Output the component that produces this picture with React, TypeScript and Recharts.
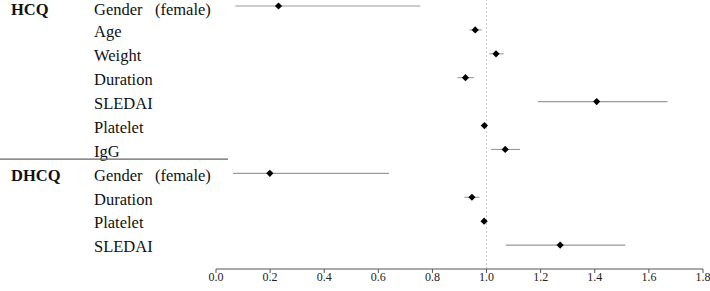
import { ComposedChart, ErrorBar, ReferenceLine, Scatter, XAxis, YAxis } from 'recharts'

const rowLabels = [
  'Gender\u00A0\u00A0\u00A0(female)',
  'Age',
  'Weight',
  'Duration',
  'SLEDAI',
  'Platelet',
  'IgG',
  'Gender\u00A0\u00A0\u00A0(female)',
  'Duration',
  'Platelet',
  'SLEDAI',
]
const groupNames = ['HCQ', 'DHCQ']
const groupFirstRow = [0, 7]

// odds ratio + 95% CI
const estimates = [0.231, 0.958, 1.035, 0.922, 1.407, 0.992, 1.069, 0.199, 0.946, 0.991, 1.272]
const lower = [0.071, 0.937, 1.01, 0.893, 1.19, 0.986, 1.016, 0.063, 0.918, 0.986, 1.071]
const upper = [0.755, 0.982, 1.063, 0.954, 1.668, 0.998, 1.124, 0.639, 0.974, 0.996, 1.513]

const xTicks = [0, 0.2, 0.4, 0.6, 0.8, 1.0, 1.2, 1.4, 1.6, 1.8]

const rows = estimates.map((est, i) => ({
  row: i,
  est,
  ci: [est - lower[i], upper[i] - est],
}))

const SERIF = "'Liberation Serif', 'Times New Roman', serif"
const W = 710
const H = 291

function RowTick(props: any) {
  const { y, payload } = props
  const i = payload.value as number
  const g = groupFirstRow.indexOf(i)
  // first row sits right at the top edge; nudge it down a hair so it isn't clipped
  const dy = i === 0 ? '0.53em' : '0.44em'
  return (
    <g>
      {g > 0 ? <line x1={0} x2={228} y1={y - 14.3} y2={y - 14.3} stroke="#666" strokeWidth={1.2} /> : null}
      {g >= 0 ? (
        <text x={11} y={y} dy={dy} fontFamily={SERIF} fontSize={16.5} fontWeight="bold" fill="#111">
          {groupNames[g]}
        </text>
      ) : null}
      <text x={94} y={y} dy={dy} fontFamily={SERIF} fontSize={16.5} fill="#111">
        {rowLabels[i]}
      </text>
    </g>
  )
}

function ValueTick(props: any) {
  const { x, y, payload } = props
  return (
    <text x={x} y={y} dy="0.7em" textAnchor="middle" fontFamily={SERIF} fontSize={12} fill="#222">
      {(payload.value as number).toFixed(1)}
    </text>
  )
}

function Diamond(props: any) {
  const { cx, cy } = props
  const r = 3.6
  return <path d={`M${cx},${cy - r}L${cx + r},${cy}L${cx},${cy + r}L${cx - r},${cy}Z`} fill="#000" />
}

export default function App() {
  return (
    <div style={{ position: 'absolute', left: 0, top: 0, width: W, height: H, background: '#fff', fontFamily: SERIF }}>
      <ComposedChart width={W} height={H} data={rows} margin={{ top: 0, right: 7, left: 0, bottom: 0 }}>
        <XAxis
          type="number"
          dataKey="est"
          domain={[0, 1.8]}
          ticks={xTicks}
          interval={0}
          tick={<ValueTick />}
          stroke="#555"
          tickSize={4}
          tickMargin={0}
          height={22}
          allowDataOverflow
        />
        <YAxis
          type="number"
          dataKey="row"
          domain={[-0.25, 11]}
          reversed
          ticks={rowLabels.map((_, i) => i)}
          interval={0}
          axisLine={false}
          tickLine={false}
          width={216}
          tick={<RowTick />}
        />
        <ReferenceLine x={1} stroke="#c8c8c8" strokeDasharray="2 2" />
        <Scatter dataKey="est" shape={<Diamond />} isAnimationActive={false}>
          <ErrorBar dataKey="ci" direction="x" width={0} stroke="#9a9a9a" strokeWidth={1.1} isAnimationActive={false} />
        </Scatter>
      </ComposedChart>
    </div>
  )
}
